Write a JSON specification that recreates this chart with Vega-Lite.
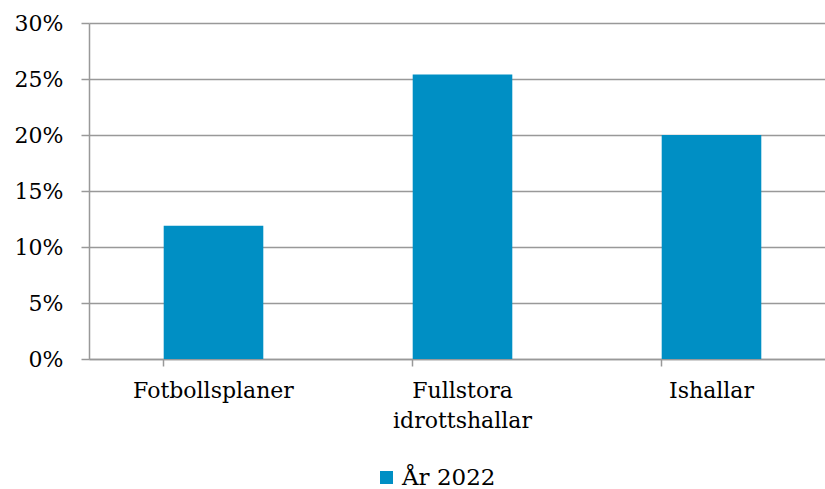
{
  "$schema": "https://vega.github.io/schema/vega-lite/v6.json",
  "autosize": {"type": "none"},
  "width": 736,
  "height": 336,
  "padding": {"left": 89, "top": 23, "right": 0, "bottom": 130},
  "background": "white",
  "config": {
    "view": {"stroke": null},
    "font": "DejaVu Serif"
  },
  "data": {
    "values": [
      {"kategori": "Fotbollsplaner", "andel": 11.9, "serie": "År 2022"},
      {"kategori": "Fullstora idrottshallar", "andel": 25.4, "serie": "År 2022"},
      {"kategori": "Ishallar", "andel": 20.0, "serie": "År 2022"}
    ]
  },
  "mark": {"type": "bar"},
  "encoding": {
    "x": {
      "field": "kategori",
      "type": "nominal",
      "sort": null,
      "title": null,
      "scale": {"range": [0, 747], "paddingInner": 0.6, "paddingOuter": 0.3},
      "axis": {
        "labelAngle": 0,
        "labelExpr": "split(datum.label, ' ')",
        "labelFont": "DejaVu Serif",
        "labelFontSize": 22,
        "labelColor": "#000000",
        "labelPadding": 14,
        "labelLineHeight": 30,
        "bandPosition": 0,
        "tickSize": 7,
        "tickColor": "#999999",
        "tickWidth": 1.5,
        "domainColor": "#999999",
        "domainWidth": 1.5,
        "grid": false
      }
    },
    "y": {
      "field": "andel",
      "type": "quantitative",
      "title": null,
      "scale": {"domain": [0, 30], "nice": false},
      "axis": {
        "values": [0, 5, 10, 15, 20, 25, 30],
        "labelExpr": "datum.value + '%'",
        "labelFont": "DejaVu Serif",
        "labelFontSize": 22,
        "labelColor": "#000000",
        "labelPadding": 18,
        "tickSize": 8,
        "tickColor": "#999999",
        "tickWidth": 1.5,
        "domainColor": "#999999",
        "domainWidth": 1.5,
        "grid": true,
        "gridColor": "#999999",
        "gridWidth": 1.5
      }
    },
    "color": {
      "field": "serie",
      "type": "nominal",
      "scale": {"range": ["#008fc4"]},
      "legend": {
        "title": null,
        "orient": "none",
        "legendX": 286,
        "legendY": 443,
        "symbolType": "square",
        "symbolSize": 169,
        "symbolStrokeWidth": 0,
        "labelFont": "DejaVu Serif",
        "labelFontSize": 23,
        "labelColor": "#000000",
        "labelOffset": 4
      }
    }
  }
}
